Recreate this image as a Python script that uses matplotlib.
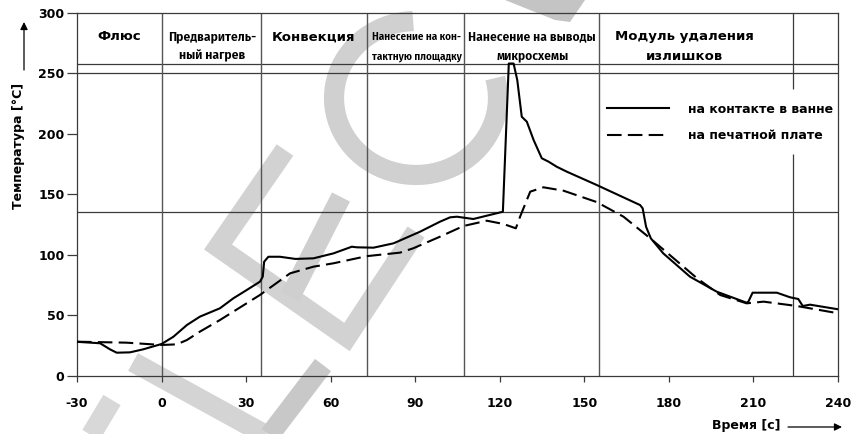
import numpy as np
import matplotlib
matplotlib.use('Agg')
import matplotlib.pyplot as plt
from matplotlib import font_manager as fm
from matplotlib.ft2font import FT2Font
from matplotlib.lines import Line2D
from matplotlib.patches import Polygon

plt.rcParams['font.family'] = 'DejaVu Sans'
plt.rcParams['font.weight'] = 'bold'
plt.rcParams['axes.unicode_minus'] = False

# температура на контакте в ванне (сплошная)
t_bath = [-30, -21.8, -18.3, -15.9, -11.2, -6.5, 0, 4.2, 9.0, 13.6, 20.7, 25.5, 30,
          34.9, 35.9, 36.4, 37.9, 42.0, 47.5, 53.9, 61.0, 67.5, 69.3, 75.2, 82.3,
          91.7, 98.8, 102.4, 104.8, 110.6, 121.1, 123.2, 124.9, 126.2, 127.8, 129.6,
          132.0, 134.9, 137.3, 140.2, 143.8, 154.4, 169.8, 170.7, 171.9, 173.6,
          178.0, 187.5, 197.0, 207.6, 208.2, 209.7, 218.3, 223.0, 225.9, 227.5,
          230.1, 240]
temp_bath = [28, 26.8, 21.8, 19.0, 19.3, 21.8, 26.2, 32.2, 41.9, 48.8, 55.7, 64, 70.5,
             77.7, 81.8, 94.2, 98.3, 98.3, 96.5, 97.0, 101.1, 106.6, 106.1, 105.8, 109.4,
             119, 127.3, 130.9, 131.4, 129.5, 135.5, 258, 258, 244.4, 214, 209.9,
             194.8, 179.7, 176.9, 172.7, 168.6, 157.6, 141, 138.3, 123.1, 113.5,
             101.1, 81.8, 69.4, 60.3, 61.2, 68.6, 68.6, 64.8, 63.4, 57.6,
             58.7, 54.9]

# температура на печатной плате (штриховая)
t_board = [-30, -12.4, 0, 5.4, 9.0, 13.6, 20.7, 34.9, 45.6, 53.9, 61.0, 72.8, 84.6,
           89.3, 98.8, 107.1, 115.4, 121.3, 125.7, 127.2, 130.8, 135.5, 142.6, 154.4,
           163.9, 173.4, 190.0, 198.2, 207.6, 213.6, 225.4, 240]
temp_board = [28.1, 27.3, 25.4, 25.9, 29.5, 36.4, 46, 66.7, 84.6, 90.1, 92.9, 98.8, 101.7,
              105.3, 114.9, 123.7, 128.1, 125.4, 121.8, 131.4, 152.1, 155.7, 152.9, 143.5,
              131.4, 113.5, 80.5, 66.7, 59.8, 61.2, 57.6, 51.6]

zone_edges = [0, 35.3, 73.0, 107.2, 155.3]
level_lines = [135.5, 250, 258]
x_ticks = list(range(-30, 241, 30))
y_ticks = list(range(0, 301, 50))


def has_cyrillic(path):
    try:
        cmap = FT2Font(path).get_charmap()
    except Exception:
        return False
    return all(ord(c) in cmap for c in 'НПаяю')


def pick_narrow():
    # узкий (condensed/narrow) полужирный шрифт с кириллицей
    best = None
    for f in fm.fontManager.ttflist:
        name = f.name
        narrowish = ('Condensed' in name or 'Narrow' in name
                     or f.stretch in ('condensed', 'semi-condensed'))
        if not narrowish or 'Mono' in name or 'Extra' in name or 'Ultra' in name:
            continue
        if not has_cyrillic(f.fname):
            continue
        w = f.weight if isinstance(f.weight, int) else fm.weight_dict.get(f.weight, 400)
        score = abs(w - 600) + (0 if f.style == 'normal' else 1000)
        if best is None or score < best[0]:
            best = (score, f.fname)
    return best[1] if best else None


narrow_file = pick_narrow()


def narrow_font(size):
    if narrow_file:
        return fm.FontProperties(fname=narrow_file, size=size)
    return fm.FontProperties(family='Liberation Sans', weight='bold', size=size * 0.85)


W, H = 860, 434
fig = plt.figure(figsize=(W / 100, H / 100), dpi=100)


def fpx(pts):
    return [p[0] / W for p in pts], [1 - p[1] / H for p in pts]


# серый водяной знак под графиком: дуга «C» и прямые штрихи
theta = np.radians(np.linspace(92, 375, 60))
c_arc = list(zip(416 + 82 * np.cos(theta), 98 - 77 * np.sin(theta)))
wm_strokes = [
    (c_arc, '#d0d0d0'),
    ([(285, 150), (218, 247), (347, 337), (416, 232)], '#d2d2d2'),
    ([(341, 197), (290, 297)], '#cfcfcf'),
    ([(133, 362), (275, 440)], '#d4d4d4'),
    ([(323, 365), (262, 445)], '#c8c8c8'),
    ([(112, 400), (88, 440)], '#d8d8d8'),
]
for pts, col in wm_strokes:
    xs, ys = fpx(pts)
    fig.add_artist(Line2D(xs, ys, transform=fig.transFigure, lw=14.5, color=col,
                          solid_capstyle='butt', solid_joinstyle='miter', zorder=-5))
xs, ys = fpx([(505, 0), (585, 0), (570, 22), (555, 20)])
fig.add_artist(Polygon(list(zip(xs, ys)), closed=True, transform=fig.transFigure,
                       color='#c4c4c4', lw=0, zorder=-5))

ax = fig.add_axes([77 / W, 1 - 375.7 / H, (838 - 77) / W, (375.7 - 12.7) / H])
ax.set_facecolor('none')
ax.set_xlim(-30, 240)
ax.set_ylim(0, 300)

frame = '#3a3a3a'
for s in ax.spines.values():
    s.set_color(frame)
    s.set_linewidth(0.9)
for y in level_lines:
    ax.axhline(y, color=frame, lw=0.9, zorder=1)
for x in zone_edges:
    ax.axvline(x, color='#555555', lw=1.0, zorder=1)
ax.vlines([224.2, 224.2], [0, 237], [183, 300], color=frame, lw=0.9, zorder=1)

ax.plot(t_bath, temp_bath, color='black', lw=1.5, zorder=3,
        label='на контакте в ванне')
ax.plot(t_board, temp_board, color='black', lw=1.5, dashes=(7, 3), zorder=3,
        label='на печатной плате')

ax.legend(loc='upper left', bbox_to_anchor=(0.696, 0.752), frameon=False,
          handlelength=5, handletextpad=1.5, borderpad=0, borderaxespad=0,
          labelspacing=1.1, prop={'size': 9, 'weight': 'bold'})

ax.set_xticks(x_ticks)
ax.set_yticks(y_ticks)
ax.tick_params(axis='x', direction='out', length=4, width=0.9, pad=11,
               labelsize=9, color=frame)
ax.tick_params(axis='y', direction='out', length=7, width=0.9, pad=2,
               labelsize=9, color=frame)

# подписи зон над графиком
headers = [
    (-15, ['Флюс'], False, 9.5),
    (18, ['Предваритель-', 'ный нагрев'], True, 9.7),
    (54, ['Конвекция'], False, 9.5),
    (90.6, ['Нанесение на кон-', 'тактную площадку'], True, 8.0),
    (131.5, ['Нанесение на выводы', 'микросхемы'], True, 9.6),
    (185.4, ['Модуль удаления', 'излишков'], False, 9.5),
]
for x, lines, is_narrow, size in headers:
    for y, s in zip([280, 264], lines):
        if is_narrow:
            ax.text(x, y, s, ha='center', va='center', fontproperties=narrow_font(size))
        else:
            ax.text(x, y, s, ha='center', va='center', fontsize=size, fontweight='bold')

fig.text(19 / W, 1 - 146 / H, 'Температура [°C]', rotation=90, ha='center',
         va='center', fontsize=9, fontweight='bold')
fig.text(746 / W, 1 - 426 / H, 'Время [с]', ha='center', va='center',
         fontsize=9, fontweight='bold')
arrow = dict(arrowstyle='-|>', lw=0.9, color='black', mutation_scale=11,
             shrinkA=0, shrinkB=0)
ax.annotate('', xy=(24, H - 22), xytext=(24, H - 70), xycoords='figure pixels',
            textcoords='figure pixels', arrowprops=arrow)
ax.annotate('', xy=(842, H - 427), xytext=(788, H - 427), xycoords='figure pixels',
            textcoords='figure pixels', arrowprops=arrow)

fig.savefig('out.png', dpi=100)
